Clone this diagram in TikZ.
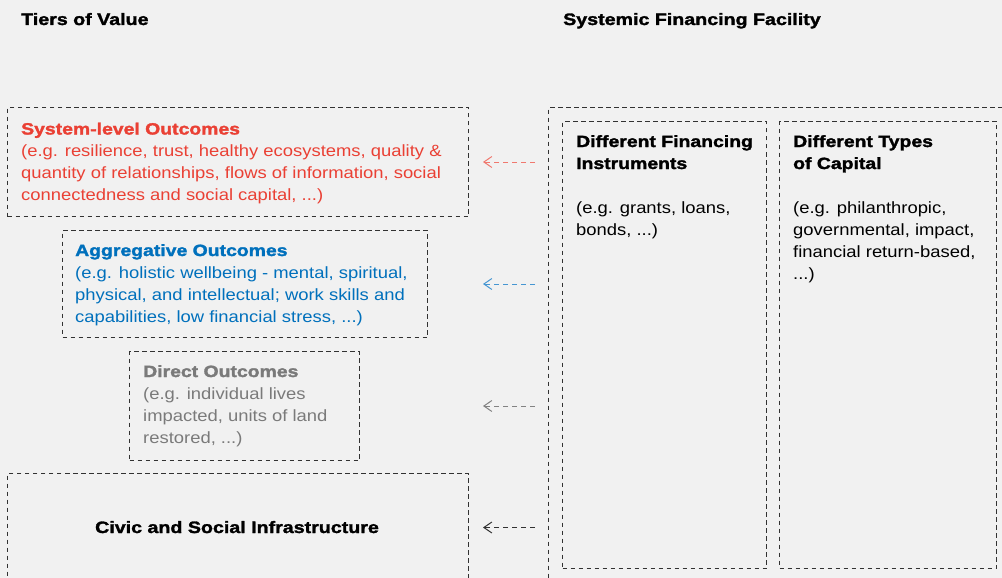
\documentclass[tikz,border=0pt]{standalone}
\usepackage{fontspec}
\setmainfont{Liberation Sans}[FakeStretch=1.13,BoldFeatures={FakeStretch=1.19,FakeBold=1.8}]
\usetikzlibrary{arrows.meta}
\definecolor{bg}{RGB}{241,241,241}
\definecolor{redt}{RGB}{234,64,52}
\definecolor{bluet}{RGB}{0,112,188}
\definecolor{grayt}{RGB}{122,122,122}
\definecolor{reda}{RGB}{240,120,110}
\definecolor{bluea}{RGB}{70,150,210}
\definecolor{graya}{RGB}{130,130,130}
\definecolor{linec}{RGB}{50,50,50}
\tikzset{
  x=1pt,y=-1pt,
  dbox/.style={draw=linec,line width=1pt,dash pattern=on 4.5pt off 3.5pt,rectangle,anchor=north west,inner sep=0pt},
  txt/.style={anchor=north west,align=left,inner sep=0pt,font=\fontsize{16.3}{22}\selectfont},
  hdr/.style={anchor=base west,inner sep=0pt,font=\fontsize{16.5}{20}\selectfont\bfseries},
  arr/.style={line width=1pt,dash pattern=on 5pt off 4pt,-{Straight Barb[length=8pt,width=11pt]}},
}
\begin{document}
\begin{tikzpicture}
\fill[bg] (0,0) rectangle (1002,578);
\useasboundingbox (0,0) rectangle (1002,578);
\clip (0,0) rectangle (1002,578);

\node[hdr] (t1) at (21,25) {Tiers of Value};
\node[hdr] (t2) at (563,25) {Systemic Financing Facility};

% left boxes
\node[dbox,minimum width=461pt,minimum height=109pt] (sys) at (7,107) {};
\node[txt,text=redt] (systx) at (21,122.5) {\textbf{System-level Outcomes}\\(e.g. resilience, trust, healthy ecosystems, quality \&\\quantity of relationships, flows of information, social\\connectedness and social capital, ...)};

\node[dbox,minimum width=365pt,minimum height=107pt] (agg) at (62,230) {};
\node[txt,text=bluet] (aggtx) at (75,244) {\textbf{Aggregative Outcomes}\\(e.g. holistic wellbeing - mental, spiritual,\\physical, and intellectual; work skills and\\capabilities, low financial stress, ...)};

\node[dbox,minimum width=230pt,minimum height=109pt] (dir) at (129,351) {};
\node[txt,text=grayt] (dirtx) at (143,365) {\textbf{Direct Outcomes}\\(e.g. individual lives\\impacted, units of land\\restored, ...)};

\node[dbox,minimum width=461pt,minimum height=108pt] (civ) at (7,473) {};
\node[hdr,anchor=base] (civtx) at (237,533) {Civic and Social Infrastructure};

% right boxes
\node[dbox,minimum width=470pt,minimum height=490pt] (out) at (548,107) {};
\node[dbox,minimum width=204pt,minimum height=447pt] (fin) at (562,121) {};
\node[dbox,minimum width=217pt,minimum height=447pt] (cap) at (779,121) {};
\node[txt] (fintx) at (576,135) {\textbf{Different Financing}\\\textbf{Instruments}\\[22pt](e.g. grants, loans,\\bonds, ...)};
\node[txt] (captx) at (793,135) {\textbf{Different Types}\\\textbf{of Capital}\\[22pt](e.g. philanthropic,\\governmental, impact,\\financial return-based,\\...)};

% arrows
\draw[arr,reda] ([xshift=-13pt]out.west |- sys.east) -- ([xshift=14pt]sys.east);
\draw[arr,bluea] ([xshift=-13pt]out.west |- agg.east) -- ([xshift=55pt]agg.east);
\draw[arr,graya] ([xshift=-13pt]out.west |- dir.east) -- ([xshift=123pt]dir.east);
\draw[arr,linec] ([xshift=-13pt]out.west |- civ.east) -- ([xshift=14pt]civ.east);
\end{tikzpicture}
\end{document}
